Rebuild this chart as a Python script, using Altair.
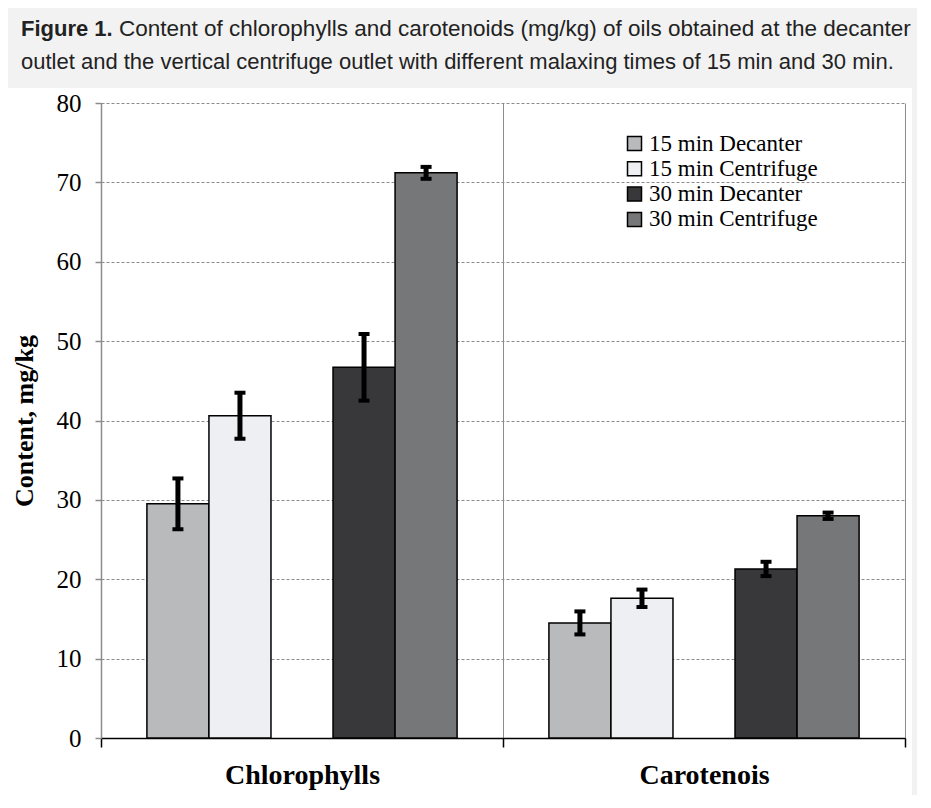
import altair as alt
import pandas as pd

categories = ["Chlorophylls", "Carotenois"]
series = ["15 min Decanter", "15 min Centrifuge", "30 min Decanter", "30 min Centrifuge"]
colors = ["#b9babc", "#eeeff2", "#38383a", "#767779"]
chl_values = [29.5, 40.6, 46.7, 71.2]
chl_errors = [3.2, 2.9, 4.2, 0.75]
car_values = [14.5, 17.6, 21.3, 28.0]
car_errors = [1.45, 1.1, 0.9, 0.4]
offset_slots = ["15 min Decanter", "15 min Centrifuge", "gap", "30 min Decanter", "30 min Centrifuge"]
y_ticks = [0, 10, 20, 30, 40, 50, 60, 70, 80]

title_bold = "Figure 1."
title_line1 = "Content of chlorophylls and carotenoids (mg/kg) of oils obtained at the decanter"
title_line2 = "outlet and the vertical centrifuge outlet with different malaxing times of 15 min and 30 min."

rows = []
for cat, vals, errs in [(categories[0], chl_values, chl_errors), (categories[1], car_values, car_errors)]:
    for s, v, e in zip(series, vals, errs):
        rows.append({"category": cat, "series": s, "value": v, "low": v - e, "high": v + e})
df = pd.DataFrame(rows)

SERIF = "Liberation Serif"
SANS = "Liberation Sans"

x_enc = alt.X("category:N", sort=categories, title=None,
              scale=alt.Scale(paddingInner=0, paddingOuter=0),
              axis=alt.Axis(labelAngle=0, labelFont=SERIF, labelFontSize=28, labelFontWeight="bold",
                            labelColor="black", labelPadding=14, tickBand="extent", tickColor="black",
                            tickSize=9, tickWidth=1.5, domainColor="black", domainWidth=1.5,
                            grid=True, gridColor="#8c8c8c", gridWidth=1))
xoff_enc = alt.XOffset("series:N", scale=alt.Scale(domain=offset_slots, paddingInner=0, paddingOuter=0.74))
y_scale = alt.Scale(domain=[0, 80], nice=False)

bg = alt.Data(values=[{}])
top_strip = alt.Chart(bg).mark_rect(color="#f2f2f2").encode(
    x=alt.value(-93), x2=alt.value(816), y=alt.value(-95), y2=alt.value(-15))
right_strip = alt.Chart(bg).mark_rect(color="#f2f2f2").encode(
    x=alt.value(811), x2=alt.value(816), y=alt.value(-15), y2=alt.value(692))

t_bold = alt.Chart(bg).mark_text(text=title_bold, font=SANS, fontSize=22, fontWeight="bold",
                                 color="#222222", align="left", baseline="alphabetic").encode(
    x=alt.value(-80), y=alt.value(-67))
t_l1 = alt.Chart(bg).mark_text(text=title_line1, font=SANS, fontSize=22.5,
                               color="#222222", align="left", baseline="alphabetic").encode(
    x=alt.value(18), y=alt.value(-67))
t_l2 = alt.Chart(bg).mark_text(text=title_line2, font=SANS, fontSize=22,
                               color="#222222", align="left", baseline="alphabetic").encode(
    x=alt.value(-80), y=alt.value(-34))

bars = alt.Chart(df).mark_bar(stroke="black", strokeWidth=1.5).encode(
    x=x_enc,
    xOffset=xoff_enc,
    y=alt.Y("value:Q", scale=y_scale, title="Content, mg/kg",
            axis=alt.Axis(values=y_ticks, labelFont=SERIF, labelFontSize=25, labelColor="black",
                          labelPadding=14, tickColor="#8c8c8c", tickSize=6, tickWidth=1.5,
                          domainColor="#8c8c8c", domainWidth=1.5, grid=True, gridColor="#8c8c8c",
                          gridDash=[3, 2], gridWidth=1, titleFont=SERIF, titleFontSize=26,
                          titleFontWeight="bold", titleColor="black", titlePadding=19)),
    color=alt.Color("series:N", sort=series, scale=alt.Scale(domain=series, range=colors),
                    legend=alt.Legend(title=None, orient="none", legendX=522, legendY=29,
                                      symbolType="square", symbolSize=196, symbolStrokeColor="black",
                                      symbolStrokeWidth=1.5, symbolOpacity=1, labelFont=SERIF,
                                      labelFontSize=23, labelColor="black", labelOffset=3,
                                      labelLimit=0, rowPadding=1.3)),
)

err_rule = alt.Chart(df).mark_rule(color="black", strokeWidth=5).encode(
    x=alt.X("category:N", sort=categories), xOffset=xoff_enc,
    y=alt.Y("low:Q", scale=y_scale), y2="high:Q")
cap_low = alt.Chart(df).mark_tick(color="black", size=11, thickness=4, opacity=1).encode(
    x=alt.X("category:N", sort=categories), xOffset=xoff_enc, y=alt.Y("low:Q", scale=y_scale))
cap_high = alt.Chart(df).mark_tick(color="black", size=11, thickness=4, opacity=1).encode(
    x=alt.X("category:N", sort=categories), xOffset=xoff_enc, y=alt.Y("high:Q", scale=y_scale))

chart = alt.layer(top_strip, right_strip, t_bold, t_l1, t_l2, bars, err_rule, cap_low, cap_high).properties(
    width=804, height=635,
    autosize=alt.AutoSizeParams(type="none"),
    padding={"left": 93, "top": 95, "right": 12, "bottom": 57},
    background="white",
).configure_view(stroke=None)

chart.save("out.html", embed_options={"renderer": "svg", "actions": False})
